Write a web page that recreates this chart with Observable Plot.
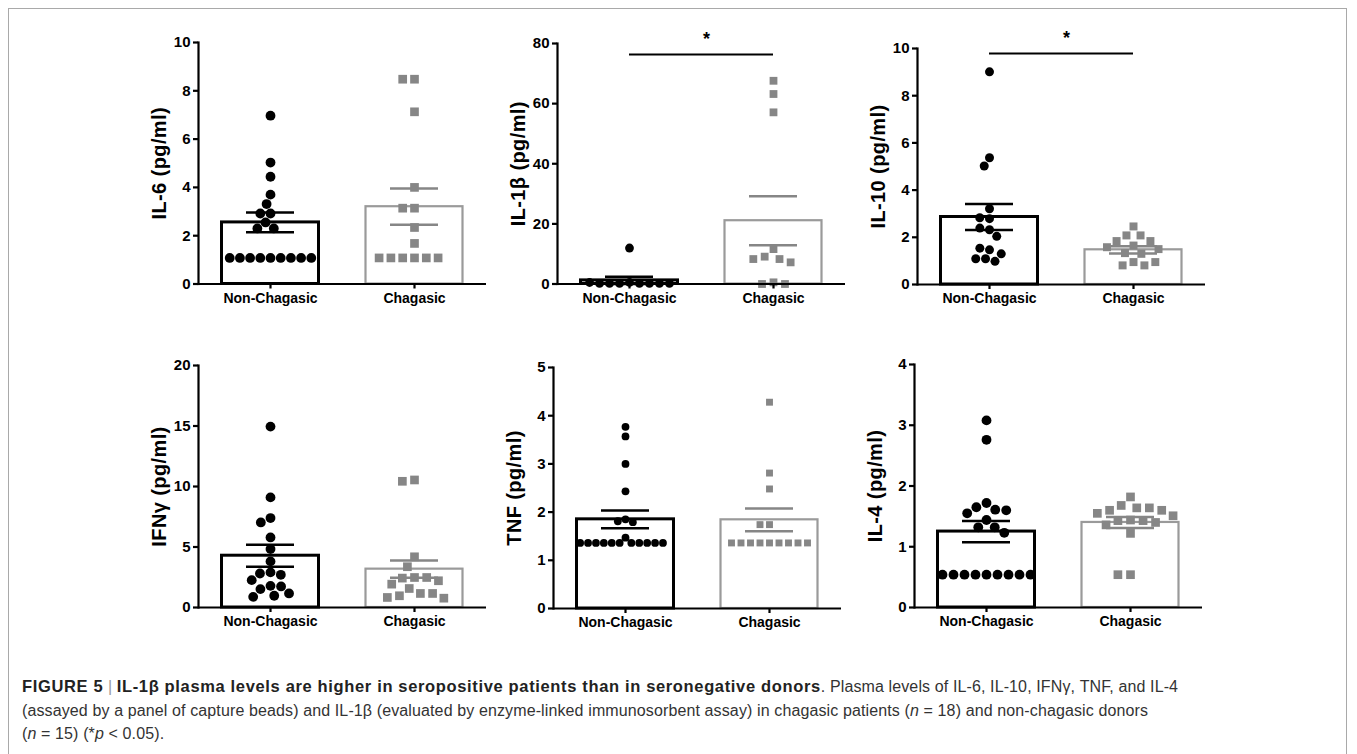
<!DOCTYPE html>
<html><head><meta charset="utf-8">
<script src="https://cdn.jsdelivr.net/npm/d3@7"></script>
<script src="https://cdn.jsdelivr.net/npm/@observablehq/plot@0.6"></script>
<style>
body{margin:0;background:#fff;}
#page{position:relative;width:1357px;height:754px;overflow:hidden;font-family:"Liberation Sans",Arial,sans-serif;}
#border{position:absolute;left:8px;top:8px;width:1339px;height:800px;border:1.5px solid #a9a9a9;box-sizing:border-box;}
.panel{position:absolute;}
.panel svg [aria-label="y-axis label"]{font-size:20px;letter-spacing:0.4px;}
#caption{position:absolute;left:22px;top:675px;font-size:16px;letter-spacing:0.12px;line-height:23.5px;color:#333;white-space:nowrap;}
#caption b{color:#222;font-size:16.5px;letter-spacing:0.65px;}
#caption .sep{color:#999;font-weight:300;}
</style></head>
<body><div id="page"><div id="border"></div><div id="caption"></div></div>
<script>
// ---------- data ----------
const groups = ["Non-Chagasic", "Chagasic"];

const il6NonChagasic = [6.97, 5.03, 4.44, 3.70, 3.31, 2.92, 2.92, 2.55, 2.30, 2.30, 1.08, 1.08, 1.08, 1.08, 1.08, 1.08, 1.08, 1.08, 1.08];
const il6Chagasic    = [8.48, 8.48, 7.13, 4.00, 3.14, 3.14, 2.34, 1.68, 1.08, 1.08, 1.08, 1.08, 1.08, 1.08];
const il6Mean = [2.55, 3.20];
const il6Sem  = [0.41, 0.75];
const il6Ticks = [0, 2, 4, 6, 8, 10];

const il1bNonChagasic = [11.97, 0.5, 0.2, 0.2, 0.2, 0.2, 0.2, 0.2, 0.2, 0.5];
const il1bChagasic    = [67.6, 63.2, 57.1, 11.6, 9.1, 8.3, 7.2, 8.3, 0.55, 0, 0];
const il1bMean = [1.2, 21.05];
const il1bSem  = [1.2, 8.15];
const il1bTicks = [0, 20, 40, 60, 80];
const il1bSignificance = [76.3];

const il10NonChagasic = [9.01, 5.37, 5.02, 3.21, 2.79, 2.83, 2.32, 2.39, 2.04, 1.47, 1.54, 1.09, 0.98, 1.09, 1.30];
const il10Chagasic    = [2.46, 2.08, 2.08, 1.84, 1.84, 1.65, 1.58, 1.50, 1.33, 1.30, 0.95, 0.81, 0.81, 0.95];
const il10Mean = [2.86, 1.47];
const il10Sem  = [0.55, 0.155];
const il10Ticks = [0, 2, 4, 6, 8, 10];
const il10Significance = [9.79];

const ifngNonChagasic = [14.95, 9.10, 7.39, 7.03, 5.79, 4.83, 3.81, 2.90, 2.81, 2.70, 2.26, 1.79, 1.74, 1.52, 1.16, 0.97, 0.88];
const ifngChagasic    = [10.54, 10.43, 4.19, 3.37, 2.48, 2.48, 2.43, 2.21, 1.93, 1.57, 1.16, 1.16, 0.97, 0.83, 0.77];
const ifngMean = [4.28, 3.17];
const ifngSem  = [0.91, 0.72];
const ifngTicks = [0, 5, 10, 15, 20];

const tnfNonChagasic = [3.77, 3.57, 3.00, 2.43, 1.85, 1.81, 1.79, 1.47, 1.36, 1.36, 1.36, 1.36, 1.36, 1.36, 1.36, 1.36, 1.36, 1.36, 1.36];
const tnfChagasic    = [4.28, 2.81, 2.48, 1.74, 1.74, 1.36, 1.36, 1.36, 1.36, 1.36, 1.36, 1.36, 1.36, 1.36];
const tnfMean = [1.85, 1.84];
const tnfSem  = [0.185, 0.235];
const tnfTicks = [0, 1, 2, 3, 4, 5];

const il4NonChagasic = [3.08, 2.76, 1.72, 1.65, 1.61, 1.60, 1.55, 1.44, 1.32, 1.32, 1.23, 0.54, 0.54, 0.54, 0.54, 0.54, 0.54, 0.54, 0.54, 0.54];
const il4Chagasic    = [1.82, 1.68, 1.64, 1.64, 1.60, 1.60, 1.55, 1.51, 1.44, 1.43, 1.43, 1.40, 1.36, 1.22, 0.54, 0.54];
const il4Mean = [1.25, 1.40];
const il4Sem  = [0.175, 0.09];
const il4Ticks = [0, 1, 2, 3, 4];

// ---------- layout ----------
const ML = 80, MR = 10, FW = 144;
const panels = [
  {label: "IL-6 (pg/ml)",  nc: il6NonChagasic,  ch: il6Chagasic,  mean: il6Mean,  sem: il6Sem,  ticks: il6Ticks,  x0: 198, top: 42,  zero: 283.5, svgTop: 0,   r: 4.9, pad: 0.4},
  {label: "IL-1β (pg/ml)", nc: il1bNonChagasic, ch: il1bChagasic, mean: il1bMean, sem: il1bSem, ticks: il1bTicks, x0: 557, top: 43,  zero: 283.5, svgTop: 0,   r: 4.4, pad: 1.2, sig: il1bSignificance, starDy: 15},
  {label: "IL-10 (pg/ml)", nc: il10NonChagasic, ch: il10Chagasic, mean: il10Mean, sem: il10Sem, ticks: il10Ticks, x0: 917, top: 48,  zero: 284,   svgTop: 0,   r: 4.5, pad: 0.8, sig: il10Significance, starDy: 15},
  {label: "IFNγ (pg/ml)",  nc: ifngNonChagasic, ch: ifngChagasic, mean: ifngMean, sem: ifngSem, ticks: ifngTicks, x0: 198, top: 365, zero: 607,   svgTop: 330, r: 4.9, pad: 0.8},
  {label: "TNF (pg/ml)",   nc: tnfNonChagasic,  ch: tnfChagasic,  mean: tnfMean,  sem: tnfSem,  ticks: tnfTicks,  x0: 553, top: 367, zero: 608,   svgTop: 330, r: 3.9, pad: 0.1},
  {label: "IL-4 (pg/ml)",  nc: il4NonChagasic,  ch: il4Chagasic,  mean: il4Mean,  sem: il4Sem,  ticks: il4Ticks,  x0: 914, top: 364, zero: 607,   svgTop: 330, r: 4.9, pad: 1.2}
];

const BLACK = "#000", GREY = "#868686", GREY_BAR = "#9a9a9a";
const FONT = "'Liberation Sans', Arial, Helvetica, sans-serif";

function groupMarks(p, gi) {
  const g = groups[gi];
  const isNC = gi === 0;
  const color = isNC ? BLACK : GREY;
  const summary = [{g, mean: p.mean[gi], lo: p.mean[gi] - p.sem[gi], hi: p.mean[gi] + p.sem[gi]}];
  const pts = (isNC ? p.nc : p.ch).map(v => ({g, v}));
  return [
    Plot.barY(summary, {fx: "g", y1: 0, y2: "mean", fill: "white", stroke: isNC ? BLACK : GREY_BAR,
      strokeWidth: isNC ? 3 : 2.2, insetLeft: 23.5, insetRight: 23.5}),
    Plot.dot(pts, Plot.dodgeX({anchor: "middle", padding: isNC ? p.pad : p.pad + 1.6},
      isNC ? {fx: "g", y: "v", r: p.r, fill: BLACK}
           : {fx: "g", y: "v", r: p.r, symbol: "square", fill: GREY})),
    Plot.ruleX(summary, {fx: "g", y1: "lo", y2: "hi", stroke: color, strokeWidth: 2.5}),
    Plot.ruleY(summary, {fx: "g", y: "hi", stroke: color, strokeWidth: 2.5, insetLeft: 48, insetRight: 48}),
    Plot.ruleY(summary, {fx: "g", y: "lo", stroke: color, strokeWidth: 2.5, insetLeft: 48, insetRight: 48})
  ];
}

function sigMarks(p) {
  if (!p.sig) return [];
  const yMax = p.ticks[p.ticks.length - 1];
  const starY = p.sig[0] + yMax * p.starDy / (p.zero - p.top);
  return [
    Plot.ruleY([{g: groups[0], y: p.sig[0]}], {fx: "g", y: "y", strokeWidth: 2, insetLeft: FW / 2}),
    Plot.ruleY([{g: groups[1], y: p.sig[0]}], {fx: "g", y: "y", strokeWidth: 2, insetRight: FW / 2}),
    Plot.text([{g: groups[0], y: starY}], {fx: "g", y: "y", text: () => "*", frameAnchor: "right",
      textAnchor: "middle", dx: 5, fontSize: 18, fontWeight: "bold"})
  ];
}

const page = document.getElementById("page");
for (const p of panels) {
  const yMax = p.ticks[p.ticks.length - 1];
  const marginTop = p.top - p.svgTop;
  const marginBottom = 36;
  const chart = Plot.plot({
    width: ML + 2 * FW + MR,
    height: marginTop + (p.zero - p.top) + marginBottom,
    marginLeft: ML, marginRight: MR, marginTop, marginBottom,
    fx: {domain: groups, padding: 0, label: null},
    y: {domain: [0, yMax]},
    style: {fontFamily: FONT, fontSize: "14px", fontWeight: "bold", color: "#000", background: "none", overflow: "visible"},
    marks: [
      ...groupMarks(p, 0),
      ...groupMarks(p, 1),
      ...sigMarks(p),
      Plot.ruleY([0], {strokeWidth: 2.2}),
      Plot.frame({anchor: "left", facetAnchor: "left", strokeWidth: 2.2}),
      Plot.axisY({ticks: p.ticks, tickFormat: d => String(d), tickSize: 5, tickPadding: 3, strokeWidth: 2.2, label: p.label,
        labelAnchor: "center", labelOffset: 47, labelArrow: "none", fontSize: 15, fontWeight: "bold"}),
      Plot.axisFx({anchor: "bottom", tickSize: 5, tickPadding: 4, strokeWidth: 2.2, label: null, fontSize: 14, fontWeight: "bold"})
    ]
  });
  const holder = document.createElement("div");
  holder.className = "panel";
  holder.style.left = (p.x0 - ML) + "px";
  holder.style.top = p.svgTop + "px";
  holder.appendChild(chart);
  page.appendChild(holder);
}

document.getElementById("caption").innerHTML =
  '<b>FIGURE 5</b> <span class="sep">|</span> <b>IL-1β plasma levels are higher in seropositive patients than in seronegative donors</b>. Plasma levels of IL-6, IL-10, IFNγ, TNF, and IL-4<br>' +
  '(assayed by a panel of capture beads) and IL-1β (evaluated by enzyme-linked immunosorbent assay) in chagasic patients (<i>n</i> = 18) and non-chagasic donors<br>' +
  '(<i>n</i> = 15) (*<i>p</i> &lt; 0.05).';
</script>
</body></html>
